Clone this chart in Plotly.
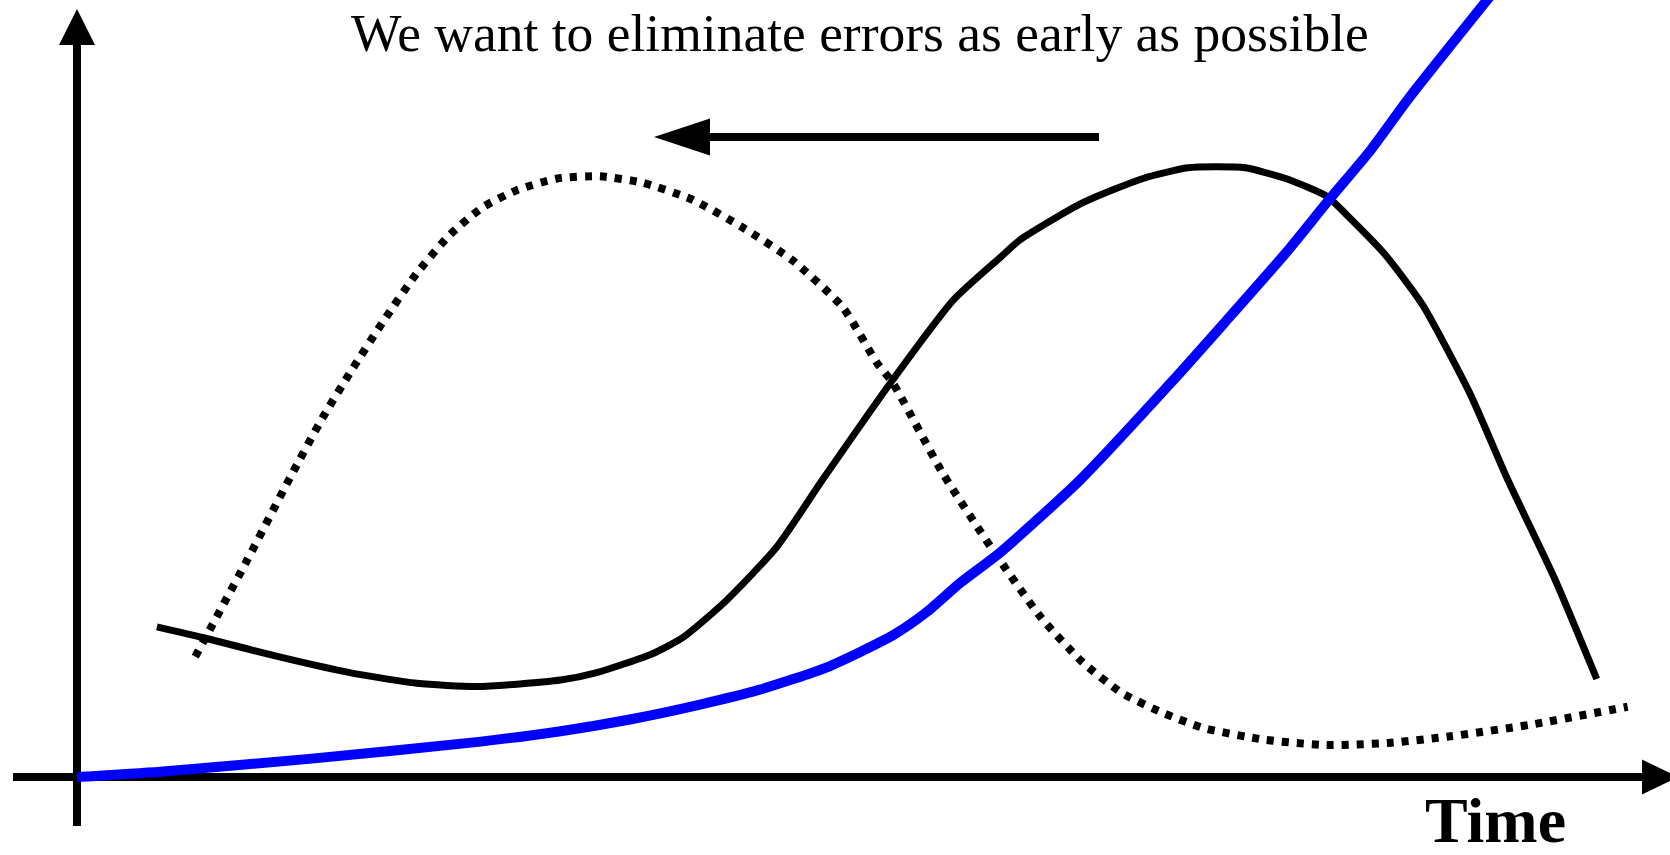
import plotly.graph_objects as go

# ---- data (time units on x, magnitude on y) ----
blue_x = [0.00, 0.78, 2.18, 3.77, 4.54, 5.19, 5.85, 6.41, 7.04, 7.66, 7.98, 8.29, 8.67, 9.42, 10.27, 10.77, 11.35, 11.74, 12.15, 12.51, 13.30]
blue_y = [0.00, 0.05, 0.17, 0.33, 0.43, 0.54, 0.68, 0.82, 1.03, 1.33, 1.55, 1.82, 2.11, 2.79, 3.70, 4.26, 4.92, 5.40, 5.89, 6.38, 7.37]

solid_x = [0.75, 1.18, 1.93, 2.56, 3.19, 3.76, 4.54, 4.88, 5.41, 5.69, 6.10, 6.57, 7.00, 7.66, 8.23, 8.67, 8.85, 9.44,
           10.01, 10.43, 10.69, 10.97, 11.35, 11.74, 11.92, 12.27, 12.63, 13.08, 13.43, 13.88, 14.27]
solid_y = [1.41, 1.31, 1.12, 0.98, 0.88, 0.85, 0.91, 0.98, 1.16, 1.31, 1.66, 2.16, 2.79, 3.73, 4.48, 4.88, 5.04, 5.39,
           5.62, 5.72, 5.73, 5.72, 5.62, 5.45, 5.28, 4.92, 4.44, 3.60, 2.80, 1.85, 0.92]

dotted_x = [1.11, 1.60, 2.00, 2.31, 2.56, 2.87, 3.19, 3.50, 3.81, 4.13, 4.51, 4.91, 5.31, 5.78, 6.25, 6.72, 7.19, 7.51,
            7.66, 8.13, 8.60, 9.05, 9.44, 9.81, 10.20, 10.58, 11.15, 11.73, 12.31, 12.88, 13.64, 14.56]
dotted_y = [1.13, 2.04, 2.81, 3.38, 3.79, 4.27, 4.73, 5.09, 5.35, 5.51, 5.62, 5.64, 5.58, 5.42, 5.16, 4.85, 4.41, 3.89,
            3.70, 2.85, 2.13, 1.50, 1.08, 0.79, 0.60, 0.46, 0.35, 0.30, 0.32, 0.38, 0.49, 0.66]

title_text = "We want to eliminate errors as early as possible"
x_label = "Time"

# ---- geometry helpers ----
W, H = 1670, 855
OX, OY = 77, 777          # pixel position of the origin
U = 106.5                 # pixels per data unit
X_RANGE = [-OX / U, (W - OX) / U]
Y_RANGE = [-(H - OY) / U, OY / U]


def px(v):
    return v / U


fig = go.Figure()

fig.add_trace(go.Scatter(x=dotted_x, y=dotted_y, mode="lines",
                         line=dict(color="black", width=8, dash="7px,8px", shape="spline", smoothing=0.6),
                         hoverinfo="skip", showlegend=False))
fig.add_trace(go.Scatter(x=solid_x, y=solid_y, mode="lines",
                         line=dict(color="black", width=7, shape="spline", smoothing=0.6),
                         hoverinfo="skip", showlegend=False))
fig.add_trace(go.Scatter(x=blue_x, y=blue_y, mode="lines",
                         line=dict(color="#0000ff", width=10, shape="spline", smoothing=0.6),
                         hoverinfo="skip", showlegend=False))

shapes = []
AXW = 8
# y axis
y_bot, y_base, y_tip, y_hw = px(-49), px(732), px(768), px(18)
shapes.append(dict(type="line", x0=0, x1=0, y0=y_bot, y1=y_base + px(2), xref="x", yref="y",
                   line=dict(color="black", width=AXW), layer="below"))
shapes.append(dict(type="path", xref="x", yref="y", fillcolor="black", line=dict(width=0),
                   path=f"M{-y_hw},{y_base} L{y_hw},{y_base} L0,{y_tip} Z"))
# x axis
x_left, x_base, x_tip, x_hh = px(-64), px(1565), px(1601), px(17.5)
shapes.append(dict(type="line", x0=x_left, x1=x_base + px(2), y0=0, y1=0, xref="x", yref="y",
                   line=dict(color="black", width=AXW), layer="below"))
shapes.append(dict(type="path", xref="x", yref="y", fillcolor="black", line=dict(width=0),
                   path=f"M{x_base},{-x_hh} L{x_base},{x_hh} L{x_tip},0 Z"))
# "earlier" arrow
a_y, a_tip, a_base, a_end, a_hh = px(640), px(577), px(633), px(1022), px(18.5)
shapes.append(dict(type="line", x0=a_base - px(2), x1=a_end, y0=a_y, y1=a_y, xref="x", yref="y",
                   line=dict(color="black", width=8)))
shapes.append(dict(type="path", xref="x", yref="y", fillcolor="black", line=dict(width=0),
                   path=f"M{a_base},{a_y - a_hh} L{a_base},{a_y + a_hh} L{a_tip},{a_y} Z"))

fig.update_layout(
    width=W, height=H,
    margin=dict(l=0, r=0, t=0, b=0),
    paper_bgcolor="white", plot_bgcolor="white",
    xaxis=dict(range=X_RANGE, visible=False, showgrid=False, zeroline=False, fixedrange=True),
    yaxis=dict(range=Y_RANGE, visible=False, showgrid=False, zeroline=False, fixedrange=True),
    shapes=shapes,
    annotations=[
        dict(text=title_text, xref="paper", yref="paper", x=860 / W, y=1 - 33 / H,
             xanchor="center", yanchor="middle", showarrow=False,
             font=dict(family="Liberation Serif, Times New Roman, serif", size=53.5, color="black")),
        dict(text=f"<b>{x_label}</b>", xref="paper", yref="paper", x=1495 / W, y=1 - 820 / H,
             xanchor="center", yanchor="middle", showarrow=False,
             font=dict(family="Liberation Serif, Times New Roman, serif", size=64, color="black")),
    ],
    showlegend=False,
)

fig.write_html("out.html",
               config={"displayModeBar": False, "staticPlot": True},
               post_script="document.body.style.margin='0px';document.body.style.overflow='hidden';")
